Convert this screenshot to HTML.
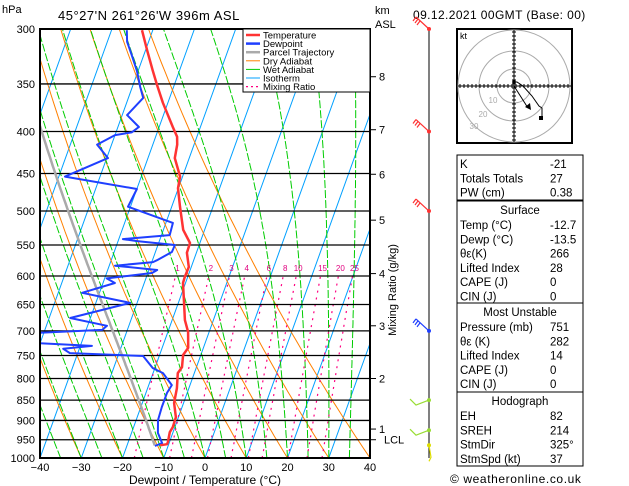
<!DOCTYPE html>
<html><head><meta charset="utf-8">
<style>
html,body{margin:0;padding:0;background:#fff;}
svg{display:block;font-family:"Liberation Sans",sans-serif;}
</style></head>
<body>
<svg id="chart" width="629" height="486" viewBox="0 0 629 486" xmlns="http://www.w3.org/2000/svg">
<defs><clipPath id="pc"><rect x="40" y="29" width="330" height="429"/></clipPath></defs>
<rect width="629" height="486" fill="#fff"/>
<text x="2" y="13" font-size="11">hPa</text>
<text x="58" y="20" font-size="13" letter-spacing="0.5">45°27'N  261°26'W  396m  ASL</text>
<text x="375" y="14" font-size="11">km</text>
<text x="375" y="28" font-size="11">ASL</text>
<text x="413" y="19" font-size="12" letter-spacing="0.4">09.12.2021  00GMT  (Base: 00)</text>
<g id="bg" clip-path="url(#pc)"></g>
<g id="prof" clip-path="url(#pc)"></g>
<g id="axes"></g>
<g id="legend">
<rect x="243" y="29" width="127" height="63" fill="#fff" stroke="#000"/>
</g>
<g id="winds"></g>
<g id="hodo"></g>
<g id="table"></g>
<text x="450" y="483" font-size="12" letter-spacing="0.6">© weatheronline.co.uk</text>
</svg>
<script>
const tempP=[301,318,337,351,369,395,406,415,431,454,469,494,527,547,562,585,602,612,642,679,702,734,749,775,788,822,857,892,917,930,956,962,965];
const tempT=[-52.6,-49.7,-46.5,-44.2,-41.2,-36.7,-34.8,-34.1,-33.5,-30.6,-30.1,-28.0,-25.2,-22.4,-22.3,-20.6,-20.7,-20.6,-18.9,-16.9,-15.1,-13.7,-14.3,-13.5,-14.0,-12.9,-12.3,-10.6,-10.5,-10.8,-10.4,-10.4,-12.0];
const dewP=[301,311,323,338,353,364,382,395,401,404,415,431,454,470,494,517,535,541,544,550,561,574,577,583,590,595,604,612,629,647,675,690,698,704,724,730,736,745,751,777,788,815,833,867,899,932,959,967];
const dewT=[-56.3,-55.2,-52.9,-50.2,-48.1,-46.4,-48.8,-44.9,-46.2,-50.0,-53.5,-49.7,-58.5,-40.0,-40.6,-28.3,-28.0,-39.0,-35.4,-25.9,-26.0,-28.9,-29.7,-38.6,-28.0,-29.0,-39.5,-37.1,-44.2,-31.7,-44.9,-35.3,-36.1,-52,-52,-37.2,-43.9,-41.9,-23.9,-20.5,-17.6,-14.4,-14.9,-14.9,-14.7,-13.6,-11.7,-13.2];
const xTicks=[-40,-30,-20,-10,0,10,20,30,40];
const pLevels=[300,350,400,450,500,550,600,650,700,750,800,850,900,950,1000];
const kmLabels=["8","7","6","5","4","3","2","1","LCL"];
const kmP=[343,398,451,513,596,690,800,922,950];
const mixRatios=[1,2,3,4,6,8,10,15,20,25];
const dryTheta=[-100,-90,-80,-70,-60,-50,-40,-30,-20,-10,0,10,20,30,40];
const wetTheta=[-45,-40,-35,-30,-25,-20,-15,-10,-5,0,5,10,15,20,25,30,35];
const isoTemps=[-110,-100,-90,-80,-70,-60,-50,-40,-30,-20,-10,0,10,20,30,40];
const tableLabels=["K","Totals Totals","PW (cm)"];
const tableValues=["-21","27","0.38"];
const surfLabels=["Temp (°C)","Dewp (°C)","θε(K)","Lifted Index","CAPE (J)","CIN (J)"];
const surfValues=["-12.7","-13.5","266","28","0","0"];
const muLabels=["Pressure (mb)","θε (K)","Lifted Index","CAPE (J)","CIN (J)"];
const muValues=["751","282","14","0","0"];
const hodoLabels=["EH","SREH","StmDir","StmSpd (kt)"];
const hodoValues=["82","214","325°","37"];

const NS="http://www.w3.org/2000/svg";
const Y0=29,Y1=458,X0=40,SK=0.36,SC=4.125;
function yP(p){return Y0+Math.log(p/300)/Math.log(1000/300)*(Y1-Y0);}
function xT(t,p){return X0+(t+40)*SC+(Y1-yP(p))*SK;}
function mk(tag,attrs,parent){const e=document.createElementNS(NS,tag);for(const k in attrs)e.setAttribute(k,attrs[k]);parent.appendChild(e);return e;}
function txt(parent,x,y,s,size,anchor,fill){const e=mk('text',{x:x,y:y,'font-size':size,'text-anchor':anchor||'start',fill:fill||'#000'},parent);e.textContent=s;return e;}
const bg=document.getElementById('bg'),prof=document.getElementById('prof'),axes=document.getElementById('axes');
function es(T){return 6.112*Math.exp(17.67*T/(T+243.5));}
isoTemps.forEach(t=>{const l=mk('line',{x1:xT(t,1000),y1:Y1,x2:xT(t,300),y2:Y0,stroke:'#00a0ff','stroke-width':1},bg);

});
dryTheta.forEach(th=>{let d='';for(let p=1000;p>=300;p-=10){const T=(th+273.15)*Math.pow(p/1000,0.2857)-273.15;d+=(p==1000?'M':'L')+xT(T,p).toFixed(1)+','+yP(p).toFixed(1);}
const e=mk('path',{d:d,fill:'none',stroke:'#ff8000','stroke-width':1},bg);

});
function moist(T0,p0,p1){const pts=[];let T=T0+273.15,p=p0;const dp=(p1<p0?-5:5);pts.push([T-273.15,p]);
while((dp<0&&p>p1)||(dp>0&&p<p1)){const rs=0.622*es(T-273.15)/(p-es(T-273.15));const L=2.5e6,Rd=287,cp=1005;
const dTdp=(Rd*T+L*rs)/(p*(cp+L*L*rs*0.622/(Rd*T*T)));T+=dTdp*dp;p+=dp;pts.push([T-273.15,p]);}return pts;}
wetTheta.forEach(th=>{const pts=moist(th,1000,300);let d='';pts.forEach((q,i)=>{d+=(i?'L':'M')+xT(q[0],q[1]).toFixed(1)+','+yP(q[1]).toFixed(1);});
const e=mk('path',{d:d,fill:'none',stroke:'#00cc00','stroke-width':1,'stroke-dasharray':'8,2'},bg);

});
mixRatios.forEach(w=>{let d='';for(let p=1000;p>=600;p-=10){const e=w*p/(622+w);const a=Math.log(e/6.112);const T=243.5*a/(17.67-a);d+=(p==1000?'M':'L')+xT(T,p).toFixed(1)+','+yP(p).toFixed(1);}
const e=mk('path',{d:d,fill:'none',stroke:'#ff0080','stroke-width':1.2,'stroke-dasharray':'2,5'},bg);


const ee=w*600/(622+w),a=Math.log(ee/6.112),T=243.5*a/(17.67-a);
const t=txt(bg,xT(T,600)+2,271,String(w),8,'middle','#e0007f');

});
pLevels.forEach(p=>{const l=mk('line',{x1:40,x2:370,y1:yP(p),y2:yP(p),stroke:'#000','stroke-width':1.3},bg);


const t=txt(axes,35,yP(p)+4,String(p),11,'end');

});
(function(){const pts=moist(-13.3,965,300);let d='';pts.forEach((q,i)=>{d+=(i?'L':'M')+xT(q[0],q[1]).toFixed(1)+','+yP(q[1]).toFixed(1);});
const e=mk('path',{d:d,fill:'none',stroke:'#aaaaaa','stroke-width':2.5},prof);

})();
function line(P,T,color,w){let d='';P.forEach((p,i)=>{d+=(i?'L':'M')+xT(T[i],p).toFixed(1)+','+yP(p).toFixed(1);});
return mk('path',{d:d,fill:'none',stroke:color,'stroke-width':w,'stroke-linejoin':'round'},prof);}
const dl=line(dewP,dewT,'#1f3fff',2);


const tl=line(tempP,tempT,'#ff3333',2.5);


const fr=mk('rect',{x:40,y:29,width:330,height:429,fill:'none',stroke:'#000','stroke-width':2},axes);


xTicks.forEach(t=>{const x=X0+(t+40)*SC;const s=txt(axes,x,471,(t<0?'\u2212':'')+Math.abs(t),11,'middle');

});
const xt=txt(axes,205,484,'Dewpoint / Temperature (°C)',12,'middle');


kmLabels.forEach((k,i)=>{const y=yP(kmP[i]);mk('line',{x1:370,x2:376,y1:y,y2:y,stroke:'#000'},axes);
const s=txt(axes,k=='LCL'?384:379,y+4,k,11,'start');

});
const mt=txt(axes,0,0,'Mixing Ratio (g/kg)',11,'middle');
mt.setAttribute('transform','translate(396,290) rotate(-90)');


const lg=document.getElementById('legend');
const legNames=['Temperature','Dewpoint','Parcel Trajectory','Dry Adiabat','Wet Adiabat','Isotherm','Mixing Ratio'];
const legCols=['#ff3333','#1f3fff','#aaaaaa','#ff8000','#00cc00','#00a0ff','#ff0080'];
const legW=[2.5,2.5,2.5,1,1,1,1.2];
legNames.forEach((n,i)=>{const y=35+i*8.6;const l=mk('line',{x1:246,x2:260,y1:y,y2:y,stroke:legCols[i],'stroke-width':legW[i]},lg);
if(i==6)l.setAttribute('stroke-dasharray','2,3');
const t=txt(lg,263,y+3.5,n,9.5,'start');

});
const wg=document.getElementById('winds');
mk('line',{x1:429,x2:429,y1:29,y2:458,stroke:'#000','stroke-width':1},wg);
const windP=[300,400,500,700,850,925,965];
const windC=['#ff3333','#ff3333','#ff3333','#1f3fff','#99dd33','#99dd33','#dddd00'];
windP.forEach((p,i)=>{const y=yP(p);mk('circle',{cx:429,cy:y,r:2,fill:windC[i]},wg);
if(i<4){mk('path',{d:`M429,${y} L416,${y-12} M416,${y-12} l-3,4 M418,${y-10} l-3,4 M420,${y-8} l-3,4`,stroke:windC[i],fill:'none','stroke-width':1.2},wg);}
else if(i<6){mk('path',{d:`M429,${y} L416,${y+5} l-6,-6`,stroke:windC[i],fill:'none','stroke-width':1.2},wg);}
else{mk('path',{d:`M429,${y} L431,${y+12} l-2,4`,stroke:windC[i],fill:'none','stroke-width':1.2},wg);}});
const hg=document.getElementById('hodo');
mk('rect',{x:457,y:29,width:115,height:114,fill:'#fff',stroke:'#000','stroke-width':2},hg);
const cx=514,cy=86;
[17,35,56].forEach(r=>mk('circle',{cx:cx,cy:cy,r:r,fill:'none',stroke:'#aaa'},hg));
mk('line',{x1:458,x2:571,y1:cy,y2:cy,stroke:'#000'},hg);mk('line',{x1:cx,x2:cx,y1:30,y2:142,stroke:'#000'},hg);
for(let k=-54;k<=54;k+=4){mk('line',{x1:cx+k,x2:cx+k,y1:cy-2,y2:cy+2,stroke:'#000'},hg);mk('line',{x1:cx-2,x2:cx+2,y1:cy+k,y2:cy+k,stroke:'#000'},hg);}
txt(hg,460,39,'kt',9,'start');
txt(hg,493,103,'10',8,'middle','#aaa');txt(hg,483,117,'20',8,'middle','#aaa');txt(hg,474,129,'30',8,'middle','#aaa');
const hodoU=[0,3,9,18,25,28,28,27];
const hodoV=[4,4,0,-10,-20,-22,-30,-32];
let hd='';hodoU.forEach((u,i)=>{hd+=(i?'L':'M')+(cx+u)+','+(cy-hodoV[i]);});
mk('path',{d:hd,fill:'none',stroke:'#000'},hg);
mk('rect',{x:cx+25,y:cy+30,width:4,height:4,fill:'#000'},hg);
mk('path',{d:`M${cx},${cy} L${cx+14},${cy+22}`,stroke:'#000',fill:'none'},hg);
mk('path',{d:`M${cx+17},${cy+24} l-6,-3 l5,-4 z`,fill:'#000'},hg);
mk('circle',{cx:cx,cy:cy-4,r:1.8,fill:'#000'},hg);
const tg=document.getElementById('table');
const TX=457,TW=126,VX=550,RH=14.3;
function box(y,h){mk('rect',{x:TX,y:y,width:TW,height:h,fill:'#fff',stroke:'#000','stroke-width':1},tg);}
function rows(y0,labels,values){labels.forEach((l,i)=>{const y=y0+i*RH;const a=txt(tg,TX+3,y,l,11.5,'start');


const b=txt(tg,VX,y,values[i],11.5,'start');

});}
box(155,45);rows(168,tableLabels,tableValues);
box(201,102);txt(tg,520,214,'Surface',11.5,'middle');rows(229,surfLabels,surfValues);
box(303,89);txt(tg,520,316,'Most Unstable',11.5,'middle');rows(331,muLabels,muValues);
box(392,74);txt(tg,520,405,'Hodograph',11.5,'middle');rows(420,hodoLabels,hodoValues);
</script>
</body></html>
